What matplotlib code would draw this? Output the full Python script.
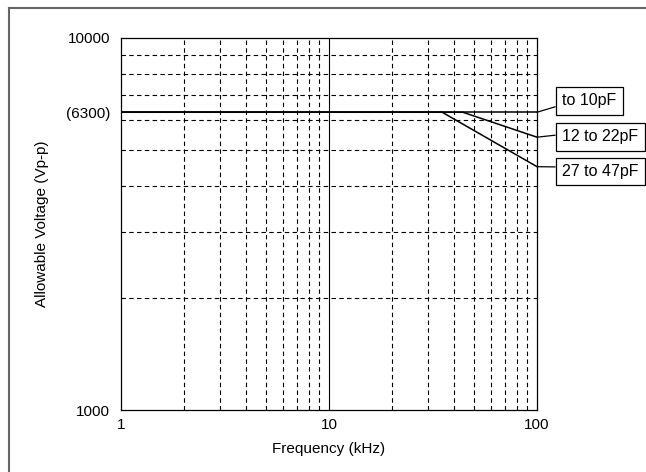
import matplotlib
matplotlib.use("Agg")
import matplotlib.pyplot as plt
from matplotlib.lines import Line2D

plt.rcParams['font.family'] = ['Liberation Sans', 'DejaVu Sans']

# Data
series_labels = ["to 10pF", "12 to 22pF", "27 to 47pF"]
freq_10pF = [1, 100]
volt_10pF = [6300, 6300]
freq_22pF = [1, 44, 100]
volt_22pF = [6300, 6300, 5400]
freq_47pF = [1, 35, 100]
volt_47pF = [6300, 6300, 4500]
x_ticks = [1, 10, 100]
x_ticklabels = ["1", "10", "100"]
y_ticks = [1000, 6300, 10000]
y_ticklabels = ["1000", "(6300)", "10000"]

W, H = 646, 472
fig = plt.figure(figsize=(W / 100, H / 100), dpi=100)
ax = fig.add_axes([121 / W, 1 - 410 / H, 416 / W, 372.5 / H])
ax.set_xscale('log')
ax.set_yscale('log')
ax.set_xlim(1, 100)
ax.set_ylim(1000, 10000)

# grid
dash = (0, (4, 3))
for dec in [1, 10]:
    for m in range(2, 10):
        ax.axvline(dec * m, color='black', lw=0.8, ls=dash, zorder=1)
ax.axvline(10, color='black', lw=0.8, zorder=1)
for m in range(2, 10):
    ax.axhline(1000 * m, color='black', lw=0.8, ls=dash, zorder=1)

ax.plot(freq_10pF, volt_10pF, color='black', lw=1.1, zorder=3)
ax.plot(freq_22pF, volt_22pF, color='black', lw=1.1, zorder=3)
ax.plot(freq_47pF, volt_47pF, color='black', lw=1.1, zorder=3)

ax.set_xticks(x_ticks)
ax.set_xticklabels(x_ticklabels)
ax.set_yticks(y_ticks)
ax.set_yticklabels(y_ticklabels)
ax.minorticks_off()
ax.tick_params(axis='x', length=0, labelsize=11, pad=6)
ax.tick_params(axis='y', length=0, labelsize=11, pad=8)
for s in ax.spines.values():
    s.set_linewidth(0.9)

ax.set_xlabel("Frequency (kHz)", fontsize=11, labelpad=7)
ax.set_ylabel("Allowable Voltage (Vp-p)", fontsize=11, labelpad=12)

# label boxes
ends = [volt_10pF[-1], volt_22pF[-1], volt_47pF[-1]]
centers = [H - 101, H - 137, H - 171.5]
relys = [0.25, 0.67, 0.8]
for lab, yv, cy, ry in zip(series_labels, ends, centers, relys):
    ax.annotate(lab, xy=(100, yv), xycoords='data',
                xytext=(562, cy), textcoords='figure pixels',
                ha='left', va='center', fontsize=11.5,
                bbox=dict(boxstyle='square,pad=0.4', fc='white', ec='black', lw=0.9),
                arrowprops=dict(arrowstyle='-', color='black', lw=0.9,
                                relpos=(0, ry), shrinkA=0, shrinkB=0),
                annotation_clip=False)

# outer frame (top and left)
fig.add_artist(Line2D([9 / W, 1], [1 - 8 / H, 1 - 8 / H], transform=fig.transFigure,
                      color='#666666', lw=1.5))
fig.add_artist(Line2D([9 / W, 9 / W], [0, 1 - 8 / H], transform=fig.transFigure,
                      color='#666666', lw=1.5))

fig.savefig("out.png", dpi=100)
